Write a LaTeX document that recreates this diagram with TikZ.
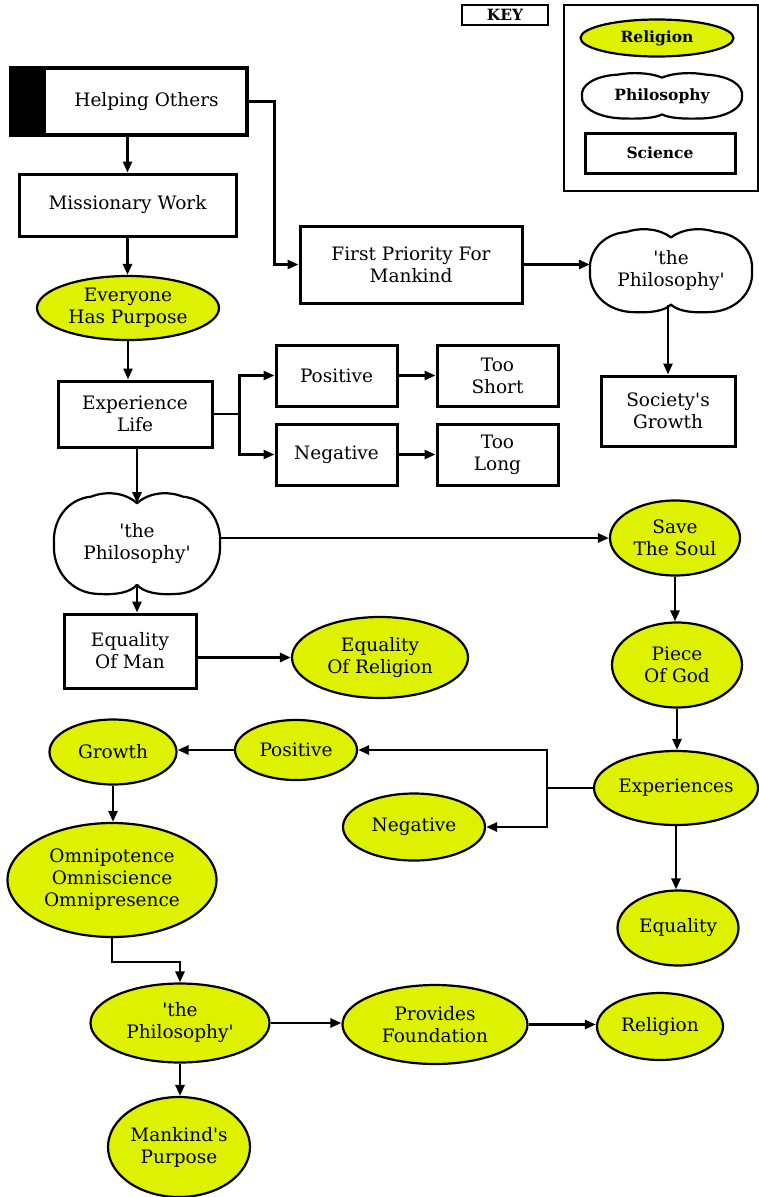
\documentclass[tikz,border=0pt]{standalone}
\usepackage{fontspec}
\setmainfont{DejaVu Serif}[Ligatures=TeXOff]
\usetikzlibrary{shapes.geometric,arrows.meta}
\definecolor{relcol}{RGB}{222,242,0}
\newcommand\mainf{\fontsize{18.5}{22}\selectfont}
\newcommand\keyf{\fontsize{15.5}{17}\selectfont\bfseries}
\tikzset{
 sci/.style={draw, rectangle, line width=3pt, inner sep=0pt, align=center, font=\mainf},
 relnode/.style={draw, ellipse, line width=2.2pt, fill=relcol, inner sep=0pt, align=center, font=\mainf},
 cloudtxt/.style={ellipse, inner sep=0pt, align=center, font=\mainf},
 cloudline/.style={line width=2.2pt, line join=round},
 arr/.style={line width=2.6pt, -{Triangle[length=11pt,width=9pt]}},
}
\newcommand\mycloud[6]{%
 \node[cloudtxt, minimum width=#4*2, minimum height=#5*2] (#1) at (#2,#3) {#6};
 \draw[cloudline, shift={(#1.center)}, xscale=#4, yscale=#5]
   (0,-0.8) coordinate (#1t)
   .. controls (-0.15,-1.02) and (-0.38,-1.04) .. (-0.55,-0.93)
   .. controls (-0.85,-0.88) and (-1.02,-0.45) .. (-1,0)
   .. controls (-1.02,0.5) and (-0.8,0.98) .. (-0.45,0.98)
   .. controls (-0.25,1.0) and (-0.08,0.95) .. (0,0.8) coordinate (#1b)
   .. controls (0.08,0.95) and (0.25,1.0) .. (0.45,0.98)
   .. controls (0.8,0.98) and (1.02,0.5) .. (1,0)
   .. controls (1.02,-0.45) and (0.85,-0.88) .. (0.55,-0.93)
   .. controls (0.38,-1.04) and (0.15,-1.02) .. (0,-0.8) -- cycle;
}
\begin{document}
\begin{tikzpicture}[x=1pt,y=-1pt]
\useasboundingbox[fill=white] (0,0) rectangle (759,1197);

% ---- KEY ----
\node[draw, line width=1.6pt, minimum width=86, minimum height=20, inner sep=0pt, font=\keyf] (keylbl) at (505,15) {KEY};
\node[draw, line width=1.6pt, minimum width=194, minimum height=186, inner sep=0pt] (keyframe) at (661,98) {};
\node[relnode, minimum width=153, minimum height=37, font=\keyf] (krel) at (657,38) {Religion};
\mycloud{kphil}{662}{96}{80}{23}{\keyf Philosophy}
\node[sci, minimum width=150, minimum height=40, font=\keyf] (ksci) at (660,153) {Science};

% ---- top ----
\node[sci, line width=4.5pt, minimum width=236, minimum height=67,
  path picture={\fill (path picture bounding box.north west) rectangle ([xshift=35pt]path picture bounding box.south west);}]
  (ho) at (129,101.5) {\hspace*{35pt}Helping Others};
\node[sci, minimum width=217, minimum height=62] (mw) at (127.5,205) {Missionary Work};
\node[relnode, minimum width=182, minimum height=64] (ehp) at (128,308) {Everyone\\Has Purpose};
\node[sci, minimum width=154, minimum height=66] (el) at (135,414) {Experience\\Life};
\node[sci, minimum width=121, minimum height=61] (pos) at (336.5,375.5) {Positive};
\node[sci, minimum width=121, minimum height=61] (neg) at (336.5,454.5) {Negative};
\node[sci, minimum width=121, minimum height=61] (ts) at (497.5,375.5) {Too\\Short};
\node[sci, minimum width=121, minimum height=61] (tl) at (497.5,454.5) {Too\\Long};
\node[sci, minimum width=222, minimum height=77] (fp) at (411,264.5) {First Priority For\\Mankind};
\mycloud{ca}{671}{271}{81}{42}{'the\\Philosophy'}
\node[sci, minimum width=134, minimum height=70] (sg) at (668,411) {Society's\\Growth};

% ---- middle ----
\mycloud{cb}{137}{544}{83}{51}{'the\\Philosophy'}
\node[relnode, minimum width=130, minimum height=75] (sts) at (675,538) {Save\\The Soul};
\node[sci, minimum width=132, minimum height=74] (eqm) at (130,651) {Equality\\Of Man};
\node[relnode, minimum width=176, minimum height=81] (eqr) at (380,657.5) {Equality\\Of Religion};
\node[relnode, minimum width=130, minimum height=85] (pog) at (677,665) {Piece\\Of God};
\node[relnode, minimum width=164, minimum height=74] (exp) at (676,788) {Experiences};
\node[relnode, minimum width=122, minimum height=60] (pos2) at (296,750) {Positive};
\node[relnode, minimum width=142, minimum height=67] (neg2) at (414,827) {Negative};
\node[relnode, minimum width=121, minimum height=75] (eq) at (678,928) {Equality};
\node[relnode, minimum width=127, minimum height=65] (gr) at (113,752) {Growth};
\node[relnode, minimum width=209, minimum height=114] (omni) at (112,880) {Omnipotence\\Omniscience\\Omnipresence};

% ---- bottom ----
\node[relnode, minimum width=179, minimum height=79] (tp) at (180,1023) {'the\\Philosophy'};
\node[relnode, minimum width=185, minimum height=79] (pf) at (435,1024.5) {Provides\\Foundation};
\node[relnode, minimum width=126, minimum height=67] (rel) at (660,1026.5) {Religion};
\node[relnode, minimum width=142, minimum height=100] (mp) at (179,1147) {Mankind's\\Purpose};

% ---- connectors ----
\draw[arr] (mw.north |- ho.south) -- (mw.north);
\draw[arr] (ho.east) -- ++(25,0) |- (fp.west);
\draw[arr] (fp.east) -- (fp.east -| ca.west);
\draw[arr] (sg.north |- cab) -- (sg.north);
\draw[arr] (mw.south) -- (mw.south |- ehp.north);
\draw[arr] (ehp.south) -- (ehp.south |- el.north);
\draw[arr] (el.east) -- ++(26,0) |- (pos.west);
\draw[arr] (el.east) -- ++(26,0) |- (neg.west);
\draw[arr] (pos.east) -- (ts.west);
\draw[arr] (neg.east) -- (tl.west);
\draw[arr] (el.south -| cbt) -- (cbt);
\draw[arr] (cbb) -- (cbb |- eqm.north);
\draw[arr] (cb.east |- sts.west) -- (sts.west);
\draw[arr] (eqm.east |- eqr.west) -- (eqr.west);
\draw[arr] (sts.south) -- (sts.south |- pog.north);
\draw[arr] (pog.south) -- (pog.south |- exp.north);
\draw[arr] (exp.west) -- ++(-46,0) |- (pos2.east);
\draw[arr] (exp.west) -- ++(-46,0) |- (neg2.east);
\draw[arr] (exp.south) -- (exp.south |- eq.north);
\draw[arr] (pos2.west) -- (pos2.west -| gr.east);
\draw[arr] (gr.south) -- (gr.south |- omni.north);
\draw[arr] (omni.south) -- ++(0,24) -| (tp.north);
\draw[arr] (tp.east) -- (tp.east -| pf.west);
\draw[arr] (pf.east) -- (pf.east -| rel.west);
\draw[arr] (tp.south) -- (tp.south |- mp.north);
\end{tikzpicture}
\end{document}
